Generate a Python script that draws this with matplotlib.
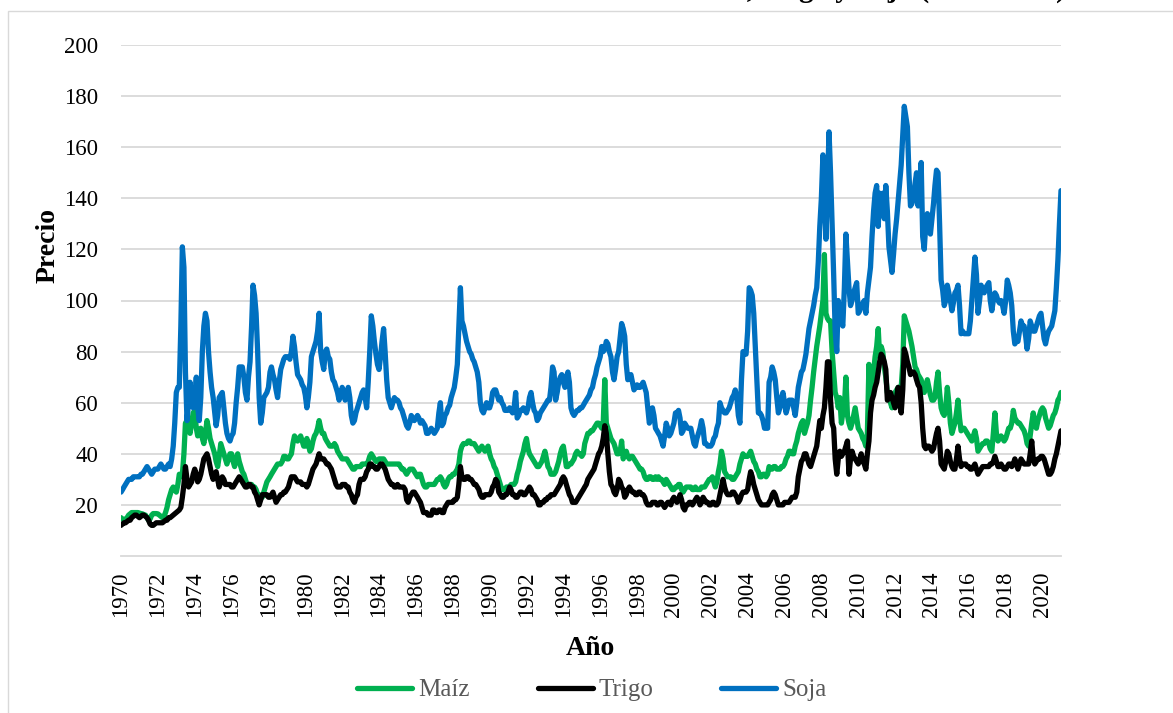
import matplotlib
matplotlib.use("Agg")
import matplotlib.pyplot as plt
import matplotlib.dates as mdates
from matplotlib.patches import Rectangle
import numpy as np
import pandas as pd

# precios mensuales (ene 1970 - ene 2021)
maiz_anual = [
    [15, 14.5, 14, 14.5, 15, 16, 16.5, 17, 17, 17, 17, 17],          # 1970
    [16.8, 16.6, 16.5, 16.2, 16, 15, 14, 14.5, 16, 16.6, 16.6, 16.6],
    [16.5, 16, 15.5, 15, 15.5, 17, 19, 22, 24, 26, 27, 26],
    [25, 28, 32, 31, 32, 40, 52, 53, 50, 48, 52, 56],
    [57, 50, 47, 49, 50, 46, 44, 48, 53, 50, 46, 44],
    [42, 40, 37, 35, 39, 44, 42, 40, 38, 36, 38, 40],                # 1975
    [40, 37, 35, 38, 40, 37, 35, 33, 32, 30, 28, 28],
    [28, 28, 27, 27, 26, 24, 24, 23, 23, 25, 27, 29],
    [30, 31, 32, 33, 34, 35, 36, 36, 36, 37, 39, 39],
    [38, 38, 39, 40, 44, 47, 46, 45, 46, 47, 45, 43],
    [43, 46, 44, 41, 42, 45, 47, 48, 50, 53, 50, 48],                # 1980
    [48, 46, 45, 44, 43, 43, 43, 44, 43, 41, 40, 39],
    [38, 38, 38, 38, 37, 36, 35, 34, 34, 35, 35, 35],
    [35, 36, 36, 36, 36, 37, 39, 40, 39, 38, 37, 37],
    [38, 38, 38, 38, 37, 36, 36, 36, 36, 36, 36, 36],
    [36, 36, 35, 34, 34, 33, 32, 33, 34, 34, 34, 33],                # 1985
    [32, 31, 32, 32, 30, 28, 27, 27, 28, 28, 28, 28],
    [28, 29, 30, 30, 31, 30, 28, 27, 28, 30, 31, 31],
    [32, 32, 33, 34, 36, 41, 43, 44, 44, 44, 45, 45],
    [44, 44, 44, 43, 42, 41, 42, 43, 42, 41, 42, 43],
    [40, 38, 37, 35, 34, 32, 30, 28, 26, 26, 26, 27],                # 1990
    [27, 27, 28, 28, 28, 29, 32, 34, 37, 39, 41, 44],
    [46, 42, 40, 39, 38, 37, 36, 35, 35, 36, 37, 39],
    [41, 38, 35, 34, 32, 32, 32, 33, 35, 37, 40, 42],
    [43, 39, 35, 35, 36, 36, 37, 38, 40, 41, 40, 40],
    [39, 40, 44, 46, 48, 48, 49, 49, 50, 51, 52, 52],                # 1995
    [51, 50, 52, 69, 52, 50, 48, 46, 45, 44, 42, 40],
    [40, 41, 45, 38, 40, 41, 39, 38, 39, 39, 38, 37],
    [36, 35, 34, 34, 33, 31, 30, 30, 31, 31, 30, 30],
    [31, 30, 31, 30, 30, 29, 28, 30, 29, 28, 27, 26],
    [26, 27, 27, 28, 28, 26, 25, 26, 27, 27, 27, 27],                # 2000
    [26, 26, 27, 26, 26, 26, 27, 27, 27, 28, 29, 30],
    [30, 31, 29, 27, 29, 33, 36, 41, 38, 33, 32, 31],
    [31, 31, 30, 30, 31, 32, 33, 36, 38, 40, 39, 39],
    [39, 40, 41, 39, 37, 36, 34, 33, 31, 31, 32, 32],
    [31, 32, 35, 34, 34, 35, 35, 34, 34, 34, 35, 35],                # 2005
    [36, 38, 39, 41, 41, 40, 40, 43, 45, 48, 50, 52],
    [53, 48, 50, 52, 55, 61, 66, 72, 77, 82, 86, 90],
    [95, 100, 118, 95, 93, 92, 92, 80, 72, 64, 62, 58],
    [62, 52, 56, 58, 70, 55, 52, 50, 52, 55, 58, 54],
    [50, 49, 48, 46, 45, 43, 48, 75, 60, 68, 72, 78],                # 2010
    [82, 89, 78, 82, 80, 74, 70, 64, 62, 60, 58, 62],
    [64, 65, 66, 66, 66, 75, 94, 92, 90, 88, 85, 82],
    [78, 74, 73, 71, 70, 69, 66, 64, 66, 69, 66, 63],
    [61, 61, 62, 68, 72, 64, 58, 56, 55, 58, 66, 60],
    [52, 48, 50, 52, 56, 61, 54, 49, 50, 50, 49, 48],                # 2015
    [47, 46, 45, 47, 49, 46, 41, 42, 43, 44, 44, 45],
    [45, 44, 42, 41, 48, 56, 48, 45, 46, 47, 46, 45],
    [46, 48, 50, 50, 52, 57, 54, 53, 52, 52, 51, 50],
    [49, 47, 44, 43, 47, 52, 56, 52, 50, 53, 55, 57],
    [58, 57, 54, 52, 50, 51, 53, 55, 56, 58, 61, 62],                # 2020
    [64],
]

trigo_anual = [
    [12, 12.5, 13, 13, 13.5, 14, 14, 15, 15.5, 16, 16, 15.5],        # 1970
    [15, 15.5, 16, 16, 15.5, 15, 14, 12.5, 12, 12, 12.5, 13],
    [13, 13, 13, 13, 13.5, 14, 14, 15, 15, 15.5, 16, 16.5],
    [17, 17.5, 18, 19, 23, 28, 35, 30, 27, 28, 29, 32],
    [34, 32, 29, 30, 32, 35, 38, 39, 40, 38, 35, 32],
    [30, 32, 33, 30, 27, 29, 31, 30, 28, 28, 28, 28],                # 1975
    [27, 27, 28, 29, 30, 31, 30, 29, 28, 27, 27, 28],
    [28, 27, 27, 25, 24, 22, 20, 22, 24, 24, 24, 24],
    [23, 23, 24, 25, 23, 21, 22, 23, 24, 24, 25, 25],
    [26, 27, 29, 31, 31, 31, 30, 29, 29, 29, 28, 28],
    [28, 27, 28, 30, 32, 34, 35, 36, 38, 40, 38, 38],                # 1980
    [38, 37, 36, 36, 35, 34, 32, 30, 28, 27, 27, 27],
    [28, 28, 28, 27, 27, 25, 24, 22, 21, 23, 24, 28],
    [30, 30, 30, 31, 33, 34, 36, 36, 35, 35, 34, 34],
    [35, 36, 36, 35, 34, 32, 30, 29, 28, 28, 27, 27],
    [28, 27, 27, 27, 27, 26, 22, 21, 23, 24, 25, 25],                # 1985
    [24, 23, 22, 21, 19, 17, 17, 17, 16, 16, 16, 18],
    [18, 17, 17, 18, 18, 17, 17, 19, 20, 21, 21, 21],
    [21, 22, 22, 23, 28, 35, 31, 30, 30, 31, 31, 30],
    [30, 29, 28, 28, 27, 26, 24, 23, 23, 24, 24, 24],
    [24, 25, 27, 28, 30, 29, 25, 24, 23, 23, 24, 24],                # 1990
    [25, 27, 26, 24, 24, 23, 23, 24, 25, 25, 24, 24],
    [25, 26, 27, 26, 24, 24, 23, 22, 20, 20, 21, 21],
    [22, 22, 23, 23, 24, 24, 24, 25, 26, 27, 28, 30],
    [31, 30, 28, 26, 24, 23, 21, 21, 21, 22, 23, 24],
    [25, 26, 27, 28, 30, 31, 32, 33, 34, 36, 38, 40],                # 1995
    [41, 43, 46, 51, 48, 40, 33, 28, 27, 25, 24, 26],
    [30, 29, 27, 26, 23, 24, 26, 27, 26, 25, 25, 24],
    [24, 25, 25, 24, 24, 23, 21, 20, 20, 20, 21, 21],
    [21, 20, 20, 21, 21, 20, 19, 20, 21, 21, 20, 22],
    [23, 22, 21, 22, 24, 22, 19, 18, 20, 20, 21, 21],                # 2000
    [20, 21, 22, 23, 22, 20, 21, 23, 22, 21, 21, 20],
    [20, 21, 21, 20, 20, 21, 24, 27, 30, 27, 25, 24],
    [24, 24, 25, 25, 24, 23, 21, 22, 24, 25, 25, 25],
    [26, 30, 33, 31, 28, 26, 24, 22, 21, 20, 20, 20],
    [20, 20, 21, 22, 24, 25, 24, 22, 20, 20, 20, 20],                # 2005
    [21, 21, 21, 21, 22, 23, 23, 23, 25, 31, 34, 37],
    [38, 40, 40, 38, 36, 35, 37, 39, 41, 43, 48, 53],
    [50, 55, 58, 66, 76, 76, 61, 52, 50, 38, 32, 38],
    [41, 39, 40, 41, 43, 45, 32, 38, 41, 39, 38, 37],
    [36, 38, 40, 37, 36, 34, 40, 45, 56, 61, 63, 66],                # 2010
    [68, 72, 76, 79, 78, 76, 73, 61, 62, 64, 62, 60],
    [58, 62, 66, 60, 56, 65, 81, 79, 76, 74, 71, 72],
    [72, 71, 69, 67, 66, 60, 50, 43, 42, 43, 43, 42],
    [41, 42, 45, 48, 50, 45, 36, 35, 34, 37, 41, 40],
    [37, 35, 34, 34, 38, 43, 38, 35, 36, 36, 36, 35],                # 2015
    [35, 34, 34, 35, 36, 34, 32, 33, 34, 35, 35, 35],
    [35, 35, 36, 36, 37, 39, 37, 35, 35, 36, 35, 34],
    [34, 35, 36, 36, 35, 36, 38, 36, 34, 36, 38, 37],
    [36, 36, 36, 36, 40, 45, 38, 36, 37, 38, 38, 39],
    [39, 38, 36, 34, 32, 32, 33, 35, 38, 40, 43, 46],                # 2020
    [49],
]

soja_anual = [
    [25, 26, 27, 28, 29, 30, 30, 30, 31, 31, 31, 31],                # 1970
    [31, 32, 32, 33, 34, 35, 34, 33, 32, 33, 34, 34],
    [34, 35, 36, 35, 34, 34, 35, 36, 35, 38, 43, 52],
    [64, 66, 66, 90, 121, 113, 72, 53, 60, 68, 62, 58],
    [62, 70, 58, 53, 62, 80, 90, 95, 92, 80, 72, 66],
    [62, 56, 51, 55, 62, 63, 64, 58, 52, 48, 46, 45],                # 1975
    [47, 48, 52, 60, 66, 74, 74, 74, 70, 64, 61, 70],
    [76, 90, 106, 102, 95, 80, 62, 52, 56, 62, 63, 64],
    [66, 72, 74, 71, 69, 65, 62, 68, 73, 75, 77, 78],
    [78, 78, 77, 80, 86, 82, 76, 71, 70, 69, 67, 66],
    [63, 58, 62, 68, 78, 80, 82, 84, 88, 95, 80, 76],                # 1980
    [73, 80, 81, 78, 77, 72, 69, 68, 66, 64, 61, 63],
    [66, 64, 61, 63, 66, 62, 55, 52, 53, 56, 58, 60],
    [62, 64, 65, 62, 58, 68, 80, 94, 90, 84, 79, 75],
    [73, 78, 84, 89, 80, 69, 62, 60, 58, 60, 62, 61],
    [61, 60, 58, 57, 55, 53, 51, 50, 52, 55, 54, 53],                # 1985
    [54, 55, 54, 52, 53, 52, 51, 48, 48, 49, 50, 49],
    [48, 49, 50, 56, 60, 51, 52, 55, 56, 58, 59, 62],
    [64, 66, 70, 75, 90, 105, 92, 90, 87, 84, 82, 80],
    [79, 77, 76, 74, 72, 68, 60, 57, 56, 58, 60, 58],
    [58, 60, 64, 65, 65, 63, 61, 62, 60, 59, 57, 57],                # 1990
    [57, 58, 57, 56, 58, 64, 54, 55, 57, 57, 58, 57],
    [56, 58, 62, 64, 60, 57, 56, 53, 54, 56, 57, 58],
    [59, 60, 61, 61, 66, 74, 72, 61, 64, 68, 70, 71],
    [68, 66, 70, 72, 68, 58, 56, 55, 56, 57, 57, 58],
    [58, 59, 60, 61, 62, 63, 65, 66, 69, 71, 74, 76],                # 1995
    [78, 82, 80, 81, 84, 83, 80, 78, 72, 69, 73, 78],
    [80, 86, 91, 89, 86, 75, 69, 70, 71, 68, 65, 66],
    [67, 66, 66, 67, 68, 66, 64, 58, 52, 54, 58, 55],
    [50, 49, 48, 47, 45, 43, 47, 52, 50, 47, 48, 50],
    [52, 56, 56, 57, 54, 48, 49, 52, 51, 50, 50, 50],                # 2000
    [47, 44, 43, 46, 48, 50, 53, 50, 44, 44, 43, 43],
    [43, 44, 46, 47, 50, 52, 60, 58, 57, 56, 56, 57],
    [58, 60, 62, 63, 65, 62, 55, 52, 69, 80, 79, 79],
    [88, 105, 104, 102, 95, 82, 70, 56, 56, 55, 53, 50],
    [50, 50, 68, 70, 74, 72, 69, 62, 56, 58, 62, 64],                # 2005
    [60, 56, 58, 61, 61, 61, 58, 55, 60, 66, 69, 72],
    [73, 76, 79, 84, 89, 92, 95, 98, 102, 105, 115, 129],
    [140, 157, 140, 124, 145, 166, 150, 130, 110, 88, 80, 100],
    [95, 92, 90, 105, 126, 115, 105, 98, 100, 103, 105, 107],
    [95, 96, 98, 99, 100, 95, 103, 108, 113, 125, 135, 142],         # 2010
    [145, 129, 142, 140, 142, 132, 145, 135, 121, 116, 111, 118],
    [126, 132, 139, 146, 153, 165, 176, 172, 168, 150, 137, 138],
    [140, 146, 150, 137, 145, 154, 125, 120, 130, 134, 130, 126],
    [132, 138, 145, 151, 150, 130, 108, 104, 98, 100, 106, 103],
    [100, 96, 99, 103, 104, 106, 98, 87, 88, 87, 87, 87],            # 2015
    [87, 92, 100, 108, 117, 110, 95, 100, 106, 104, 103, 105],
    [106, 107, 100, 96, 100, 103, 102, 100, 99, 100, 98, 95],
    [100, 108, 106, 103, 98, 88, 83, 84, 84, 88, 92, 90],
    [90, 86, 81, 85, 92, 90, 88, 88, 90, 92, 94, 95],
    [90, 85, 83, 86, 88, 89, 90, 93, 96, 105, 116, 130],             # 2020
    [143],
]

maiz = np.concatenate(maiz_anual)
trigo = np.concatenate(trigo_anual)
soja = np.concatenate(soja_anual)
fechas = pd.date_range("1970-01-01", periods=len(soja), freq="MS")

serif = "Liberation Serif"
plt.rcParams["font.family"] = serif

W, H = 1173, 713
fig = plt.figure(figsize=(W / 100, H / 100), dpi=100)
ax = fig.add_axes([121 / W, 1 - 556 / H, 940 / W, 511 / H])

kw = dict(lw=3.8, solid_joinstyle="round", solid_capstyle="round")
ax.plot(fechas, maiz, color="#00b050", label="Maíz", **kw)
ax.plot(fechas, trigo, color="#000000", label="Trigo", **kw)
ax.plot(fechas, soja, color="#0070c0", label="Soja", **kw)

ax.set_ylim(0, 200)
ax.set_yticks(range(20, 201, 20))
ax.set_xlim(fechas[0], fechas[-1])
ax.xaxis.set_major_locator(mdates.YearLocator(2))
ax.xaxis.set_major_formatter(mdates.DateFormatter("%Y"))
ax.tick_params(axis="both", length=0, labelsize=16.5, colors="#000000")
ax.tick_params(axis="y", pad=16.5)
ax.tick_params(axis="x", pad=11, labelrotation=90)

ax.yaxis.grid(True, color="#d9d9d9", lw=1.3)
ax.set_axisbelow(True)
for s in ["top", "left", "right"]:
    ax.spines[s].set_visible(False)
ax.spines["bottom"].set_color("#d9d9d9")
ax.spines["bottom"].set_linewidth(1.3)

# titulos de ejes
fig.text(48 / W, 1 - 246 / H, "Precio", rotation=90, ha="center", va="center",
         fontsize=20, fontweight="bold")
fig.text(590 / W, 1 - 655 / H, "Año", ha="center", va="baseline",
         fontsize=20, fontweight="bold")

# titulo recortado por el borde superior
fig.text(1066 / W, 1 + 3 / H, "Evolución del Precio del Maíz, Trigo y Soja (1970-2021)",
         ha="right", va="baseline", fontsize=21, fontweight="bold")

# marco del grafico
fig.patches.append(Rectangle((8 / W, -0.05), 1.2, 1.05 - 11 / H, transform=fig.transFigure,
                             fill=False, edgecolor="#d9d9d9", lw=1.0))

fig.legend(loc="center", bbox_to_anchor=(592 / W, 1 - 690 / H), ncol=3, frameon=False,
           fontsize=18, labelcolor="#595959", handlelength=2.2, handletextpad=0.25,
           columnspacing=2.7)

fig.savefig("out.png", dpi=100)
